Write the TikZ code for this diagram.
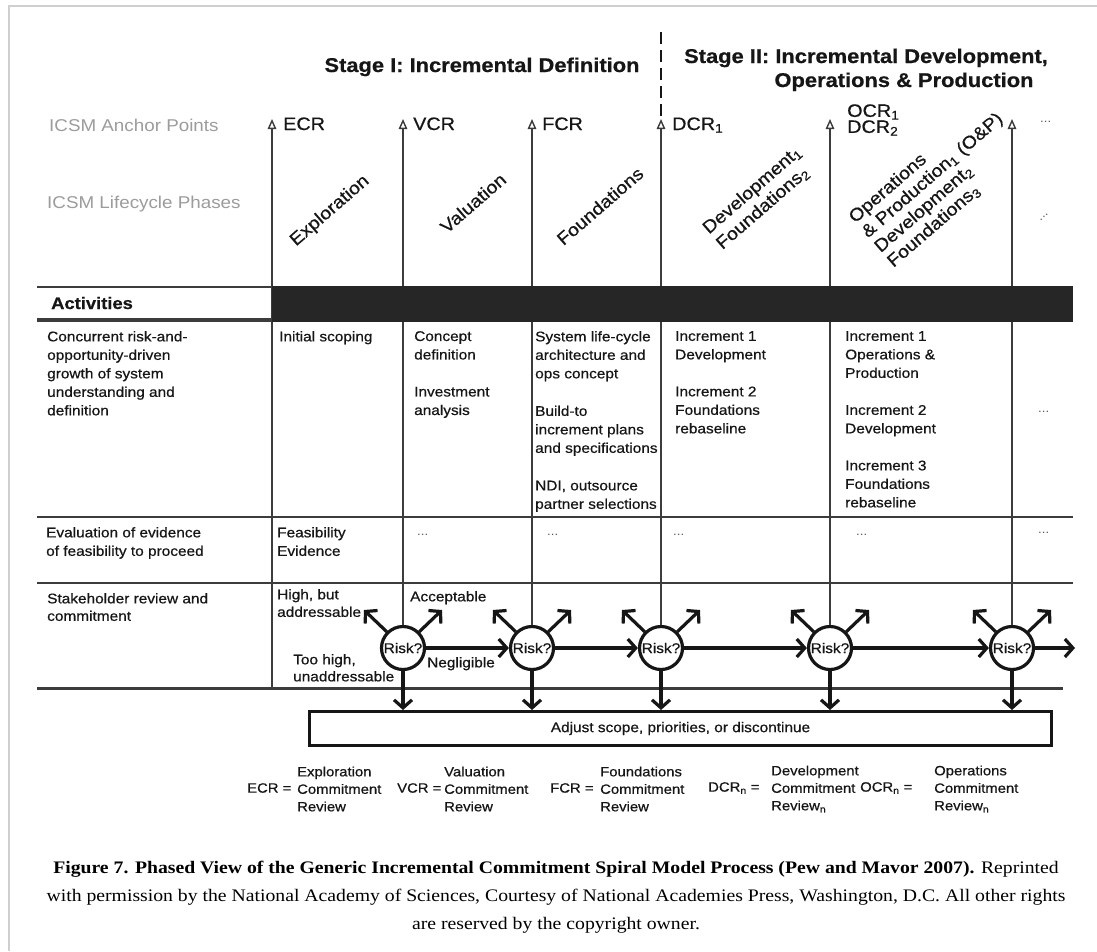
\documentclass[tikz,border=0pt]{standalone}
\usepackage{fontspec}
\setmainfont{Liberation Sans}[FakeStretch=1.1, FakeBold=0.6]
\newfontfamily\lightfont{Liberation Sans}[FakeStretch=1.1]
\newfontfamily\capfont{Liberation Serif}[FakeStretch=1.12]
\usetikzlibrary{arrows.meta}
\definecolor{ink}{HTML}{161616}
\definecolor{rulec}{HTML}{3C3C3C}
\definecolor{lblc}{HTML}{9C9C9C}
\definecolor{framec}{HTML}{CFCFCF}
\definecolor{barc}{HTML}{262626}
\definecolor{dotc}{HTML}{5A5A5A}
\begin{document}
\begin{tikzpicture}[x=1pt,y=-1pt,
  txt/.style={font=\fontsize{14}{18.5}\selectfont, text=ink, align=left, inner sep=0pt, anchor=north west},
  txtb/.style={txt, font=\fontsize{14}{17.5}\selectfont},
  lbltxt/.style={font=\lightfont\fontsize{17.1}{20}\selectfont, text=lblc, inner sep=0pt, anchor=base west},
  aptxt/.style={font=\fontsize{18}{16}\selectfont, text=ink, inner sep=0pt, anchor=base west},
  stagetxt/.style={font=\bfseries\fontsize{19.9}{24}\selectfont, text=ink, inner sep=0pt, anchor=base},
  phasetxt/.style={font=\fontsize{17.8}{20.5}\selectfont, text=ink, inner sep=0pt, rotate=41, align=left},
  ellip/.style={font=\lightfont\fontsize{12}{12}\selectfont, text=dotc, inner sep=0pt, anchor=west},
  colline/.style={draw=rulec, line width=2.2pt},
  aparrow/.style={colline, -{Triangle[length=10pt, width=8.5pt, fill=white, line width=1.4pt]}},
  hrule/.style={draw=rulec, line width=2.4pt},
  riskc/.style={circle, draw=ink, line width=3.2pt, minimum size=43pt, inner sep=0pt, font=\fontsize{14}{14}\selectfont, text=ink},
  riskarrow/.style={draw=ink, line width=3.2pt, -{Straight Barb[length=8pt, width=18pt, line width=3.2pt]}},
  legtxt/.style={font=\fontsize{13.5}{17.5}\selectfont, text=ink, align=left, inner sep=0pt, anchor=west},
]
\useasboundingbox (0,0) rectangle (1097,951);
\fill[white] (0,0) rectangle (1097,951);
% frame
\draw[framec, line width=1.2pt] (9,951) -- (9,6) -- (1097,6);

% stage titles
\node[stagetxt] (s1) at (482,72) {Stage I: Incremental Definition};
\node[stagetxt] (s2a) at (866,63) {Stage II: Incremental Development,};
\node[stagetxt] (s2b) at (904,87) {Operations \& Production};
\coordinate (dtop) at (661,32);

% row labels
\node[lbltxt] (lap) at (49,131) {ICSM Anchor Points};
\node[lbltxt] (llp) at (47,208) {ICSM Lifecycle Phases};

% anchor tips
\coordinate (t1) at (272,119);
\coordinate (t2) at (403,119);
\coordinate (t3) at (532,119);
\coordinate (t4) at (661,119);
\coordinate (t5) at (830,119);
\coordinate (t6) at (1012,119);
\draw[ink, line width=2.2pt, dash pattern=on 12pt off 6pt] (dtop) -- (t4);

\node[aptxt] (ecr) at (283,130) {ECR};
\node[aptxt] (vcr) at (413,130) {VCR};
\node[aptxt] (fcr) at (542,130) {FCR};
\node[aptxt] (dcr) at (672,130) {DCR\textsubscript{1}};
\node[font=\fontsize{18}{16}\selectfont, text=ink, inner sep=0pt, align=left, anchor=west] (ocr) at (847,120) {OCR\textsubscript{1}\\DCR\textsubscript{2}};
\node[ellip] (apd) at (1040,122) {...};

% phases
\node[phasetxt] (pe) at (330,211) {Exploration};
\node[phasetxt] (pv) at (473,203) {Valuation};
\node[phasetxt] (pf) at (600,206) {Foundations};
\node[phasetxt] (pd) at (759,198) {Development\textsubscript{1}\\Foundations\textsubscript{2}};
\node[phasetxt, font=\fontsize{17.8}{19.5}\selectfont] (po) at (939,183) {Operations\\\& Production\textsubscript{1} (O\&P)\\Development\textsubscript{2}\\Foundations\textsubscript{3}};
\node[ellip, rotate=41, anchor=center] (pdots) at (1044,217) {...};

% horizontal rules
\draw[rulec, line width=1.6pt] (37,287) -- (272,287);
\draw[rulec, line width=3.6pt] (37,320) -- (272,320);
\draw[hrule] (37,517) -- (1073,517);
\draw[hrule] (37,583) -- (1073,583);
\draw[hrule, line width=3pt] (37,688) -- (1063,688);
\coordinate (b1) at (272,688);

% risk circles
\node[riskc] (r1) at (403,648) {Risk?};
\node[riskc] (r2) at (532,648) {Risk?};
\node[riskc] (r3) at (661,648) {Risk?};
\node[riskc] (r4) at (830,648) {Risk?};
\node[riskc] (r5) at (1012,648) {Risk?};

% column lines with anchor arrows
\draw[aparrow] (b1) -- (t1);
\draw[aparrow] (r1.north) -- (t2);
\draw[aparrow] (r2.north) -- (t3);
\draw[aparrow] (r3.north) -- (t4);
\draw[aparrow] (r4.north) -- (t5);
\draw[aparrow] (r5.north) -- (t6);

% activities bar
\fill[barc] (272,286) rectangle (1073,322);
\node[font=\bfseries\fontsize{16.7}{18}\selectfont, text=ink, anchor=base west, inner sep=0pt] (act) at (51,309) {Activities};

% row 1
\node[txt] (c0) at (47,331) {Concurrent risk-and-\\opportunity-driven\\growth of system\\understanding and\\definition};
\node[txt] (c1) at (279,331) {Initial scoping};
\node[txt] (c2) at (414,331) {Concept\\definition\\[18.5pt]Investment\\analysis};
\node[txt] (c3) at (535,331) {System life-cycle\\architecture and\\ops concept\\[19pt]Build-to\\increment plans\\and specifications\\[19pt]NDI, outsource\\partner selections};
\node[txt] (c4) at (675,331) {Increment 1\\Development\\[18.5pt]Increment 2\\Foundations\\rebaseline};
\node[txt] (c5) at (845,331) {Increment 1\\Operations \&\\Production\\[18.5pt]Increment 2\\Development\\[18.5pt]Increment 3\\Foundations\\rebaseline};
\node[ellip] (c6) at (1038,412) {...};

% row 2
\node[txt] (e0) at (46,527) {Evaluation of evidence\\of feasibility to proceed};
\node[txt] (e1) at (277,527) {Feasibility\\Evidence};
\node[ellip] (e2) at (417,535) {...};
\node[ellip] (e3) at (547,535) {...};
\node[ellip] (e4) at (673,535) {...};
\node[ellip] (e5) at (856,535) {...};
\node[ellip] (e6) at (1038,533) {...};

% row 3
\node[txtb] (s0) at (47,593) {Stakeholder review and\\commitment};
\node[txtb] (hb) at (277,589) {High, but\\addressable};
\node[txtb] (acc) at (410,591) {Acceptable};
\node[txtb, font=\fontsize{14}{17}\selectfont] (th) at (293,654) {Too high,\\unaddressable};
\node[txtb] (neg) at (427,657) {Negligible};

% adjust box
\node[draw=ink, line width=3pt, minimum width=742pt, minimum height=34pt, inner sep=0pt, font=\fontsize{14}{14}\selectfont, text=ink] (adj) at (680.5,728.5) {Adjust scope, priorities, or discontinue};

% risk arrows
\foreach \n in {1,...,5} {
  \path (r\n) ++(-39,-38) coordinate (u\n l) ++(78,0) coordinate (u\n r);
  \draw[riskarrow] (r\n.north west) -- (u\n l);
  \draw[riskarrow] (r\n.north east) -- (u\n r);
  \draw[riskarrow] (r\n.south) -- (r\n.south |- adj.north);
}
\coordinate (hend) at (1075,648);
\draw[riskarrow] (r1.east) -- (r2.west);
\draw[riskarrow] (r2.east) -- (r3.west);
\draw[riskarrow] (r3.east) -- (r4.west);
\draw[riskarrow] (r4.east) -- (r5.west);
\draw[riskarrow] (r5.east) -- (hend);

% legend
\node[legtxt] (l1) at (247,788) {ECR =};
\node[legtxt] (l1t) at (297,789) {Exploration\\Commitment\\Review};
\node[legtxt] (l2) at (397,788) {VCR =};
\node[legtxt] (l2t) at (444,789) {Valuation\\Commitment\\Review};
\node[legtxt] (l3) at (550,788) {FCR =};
\node[legtxt] (l3t) at (600,789) {Foundations\\Commitment\\Review};
\node[legtxt] (l4) at (708,788) {DCR\textsubscript{n} =};
\node[legtxt] (l4t) at (771,789) {Development\\Commitment\\Review\textsubscript{n}};
\node[legtxt] (l5) at (860,788) {OCR\textsubscript{n} =};
\node[legtxt] (l5t) at (934,789) {Operations\\Commitment\\Review\textsubscript{n}};

% caption
\node[font=\capfont\fontsize{17.6}{28}\selectfont, align=center, text=black, inner sep=0pt] (cap) at (556,897) {\textbf{Figure 7. Phased View of the Generic Incremental Commitment Spiral Model Process (Pew and Mavor 2007).} Reprinted\\with permission by the National Academy of Sciences, Courtesy of National Academies Press, Washington, D.C. All other rights\\are reserved by the copyright owner.};
\end{tikzpicture}
\end{document}
